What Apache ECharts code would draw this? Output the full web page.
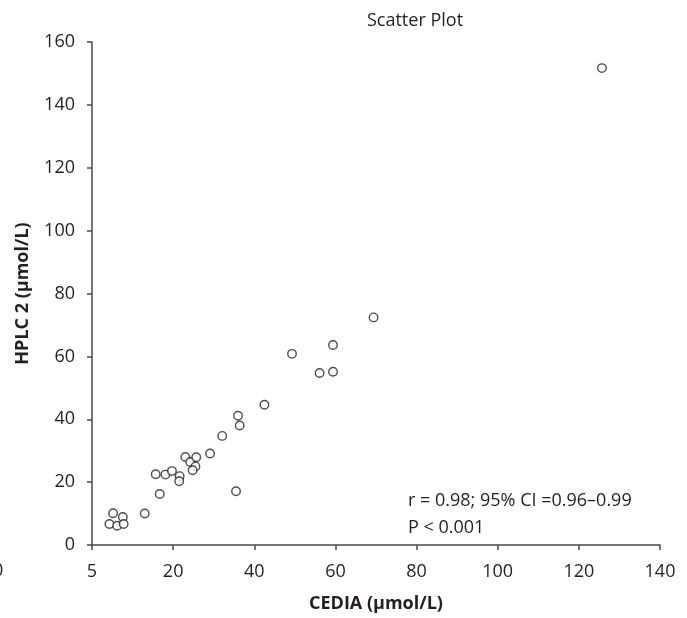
<!DOCTYPE html>
<html>
<head>
<meta charset="utf-8">
<script src="https://cdn.jsdelivr.net/npm/echarts@6/dist/echarts.min.js"></script>
<style>
  html, body { margin: 0; padding: 0; background: #fff; }
  #chart { width: 687px; height: 618px; }
</style>
</head>
<body>
<div id="chart"></div>
<script>
// CEDIA vs HPLC 2 measurements (µmol/L)
const cedia = [4.3, 5.2, 6.2, 7.6, 7.8, 13.0, 16.7, 15.7, 18.1, 19.7, 21.6, 21.5, 23.0, 24.2, 25.7,
               25.5, 24.8, 29.1, 32.1, 35.5, 36.0, 36.4, 42.5, 49.3, 56.1, 59.4, 59.4, 69.4, 125.7];
const hplc2 = [6.7, 10.1, 6.1, 8.9, 6.7, 10.0, 16.2, 22.5, 22.4, 23.5, 21.9, 20.3, 28.0, 26.4, 27.9,
               25.0, 23.8, 29.1, 34.7, 17.1, 41.1, 38.0, 44.6, 60.8, 54.7, 63.6, 55.1, 72.4, 151.7];

// Tick labels along each axis (one per 20-unit step)
const xTickLabels = ['5', '20', '40', '60', '80', '100', '120', '140'];
const yTickLabels = ['0', '20', '40', '60', '80', '100', '120', '140', '160'];

const statsLines = ['r = 0.98; 95% CI =0.96\u20130.99', 'P < 0.001'];

const points = cedia.map((x, i) => [x, hplc2[i]]);

const fontFamily = '"Open Sans", "Noto Sans", sans-serif';
const axisColor = '#4a4a4a';
const textColor = '#231f20';

const chart = echarts.init(document.getElementById('chart'), null, { renderer: 'canvas' });

chart.setOption({
  animation: false,
  backgroundColor: '#fff',
  textStyle: { fontFamily: fontFamily },
  title: {
    text: 'Scatter Plot',
    left: 410,
    top: 7,
    textAlign: 'center',
    textStyle: { fontFamily: fontFamily, fontSize: 18, fontWeight: 'normal', color: textColor }
  },
  grid: { left: 92, right: 27, top: 42, bottom: 71, containLabel: false },
  xAxis: {
    type: 'value',
    min: 0,
    max: 140,
    interval: 20,
    name: 'CEDIA (\u00b5mol/L)',
    nameLocation: 'middle',
    nameGap: 50,
    nameTextStyle: { fontFamily: fontFamily, fontSize: 18, fontWeight: 'bold', color: textColor },
    axisLine: { show: true, onZero: false, lineStyle: { color: axisColor, width: 1.5 } },
    axisTick: { show: true, length: 5, lineStyle: { color: axisColor, width: 1.5 } },
    axisLabel: {
      margin: 18,
      fontSize: 18,
      color: textColor,
      fontFamily: fontFamily,
      formatter: v => xTickLabels[Math.round(v / 20)]
    },
    splitLine: { show: false }
  },
  yAxis: {
    type: 'value',
    min: 0,
    max: 160,
    interval: 20,
    name: 'HPLC 2 (\u00b5mol/L)',
    nameLocation: 'middle',
    nameGap: 60,
    nameTextStyle: { fontFamily: fontFamily, fontSize: 18, fontWeight: 'bold', color: textColor },
    axisLine: { show: true, onZero: false, lineStyle: { color: axisColor, width: 1.5 } },
    axisTick: { show: true, length: 5, lineStyle: { color: axisColor, width: 1.5 } },
    axisLabel: {
      margin: 17,
      fontSize: 18,
      color: textColor,
      fontFamily: fontFamily,
      formatter: v => yTickLabels[Math.round(v / 20)]
    },
    splitLine: { show: false }
  },
  series: [{
    type: 'scatter',
    data: points,
    symbol: 'circle',
    symbolSize: 8.5,
    itemStyle: { color: '#fff', borderColor: '#231f20', borderWidth: 1.4 },
    silent: true
  }],
  graphic: [{
    type: 'text',
    left: 408,
    top: 487,
    style: {
      text: statsLines.join('\n'),
      font: '18px ' + fontFamily,
      fill: textColor,
      lineHeight: 27
    }
  }, {
    // stray digit clipped at the left border
    type: 'text',
    left: -7,
    top: 562,
    style: { text: '0', font: '18px ' + fontFamily, fill: textColor }
  }]
});
</script>
</body>
</html>
